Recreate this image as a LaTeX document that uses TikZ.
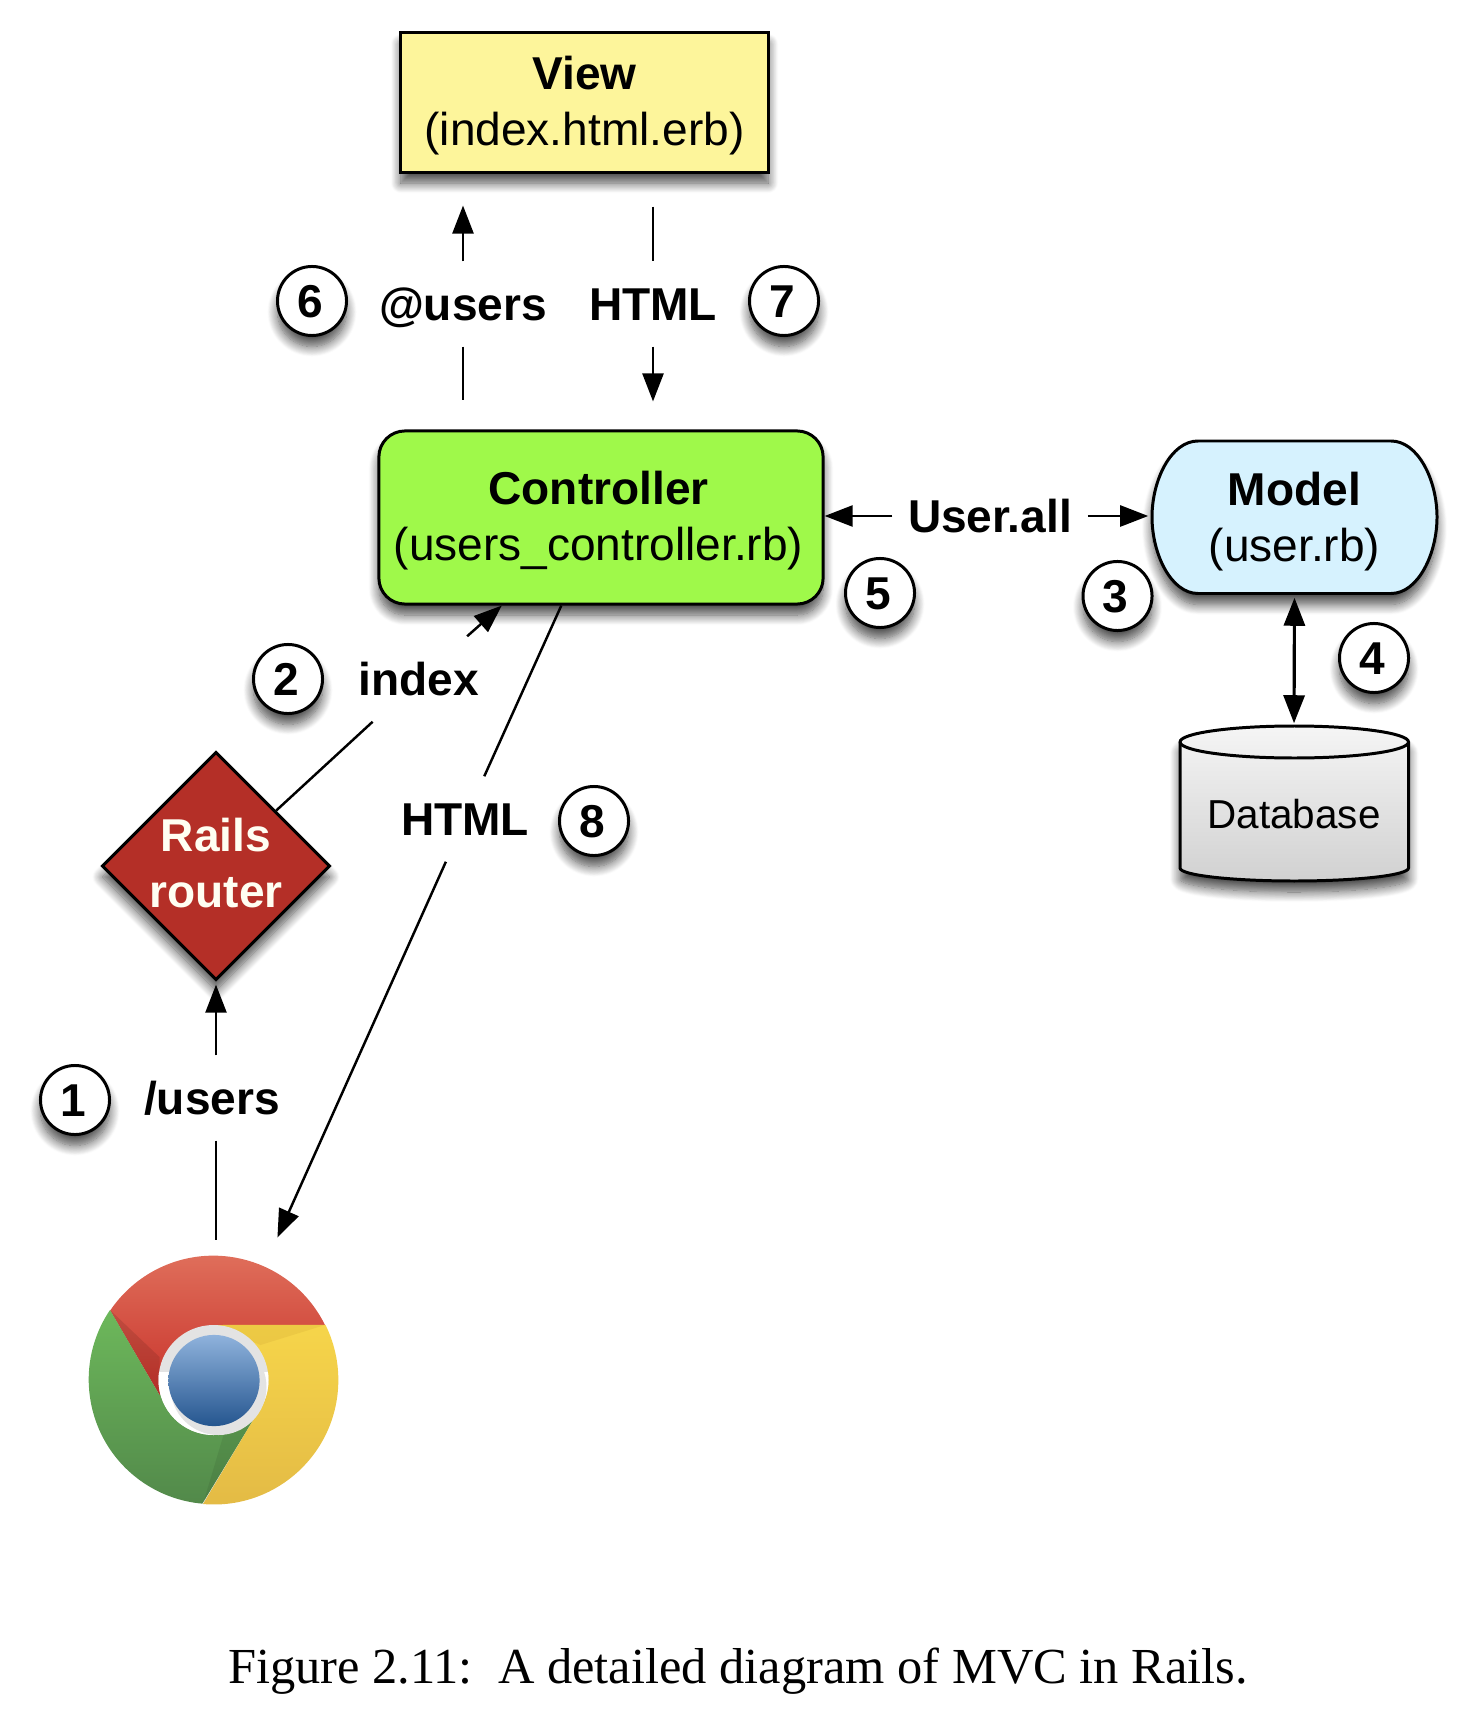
\documentclass[tikz,border=0pt]{standalone}
\usepackage{fontspec}
\setmainfont{Liberation Sans}
\newfontfamily\captionfont{Liberation Serif}
\usepackage{tikz}
\usetikzlibrary{arrows.meta,shapes.geometric,shadows.blur}

\definecolor{viewyellow}{HTML}{FDF59B}
\definecolor{ctrlgreen}{HTML}{9FF94A}
\definecolor{modelblue}{HTML}{D6F2FE}
\definecolor{routerred}{HTML}{B42F27}

\newcommand{\labelsize}{\fontsize{13.1}{15.9}\selectfont}
\newcommand{\topfix}{\rule{0pt}{11.3pt}}

\tikzset{
  softshadow/.style={blur shadow={shadow xshift=0cm,shadow yshift=-.11cm,shadow blur radius=.1cm,shadow blur steps=12,shadow opacity=70}},
  box/.style={draw,line width=.85pt,align=center,softshadow},
  num/.style={circle,draw,line width=.85pt,fill=white,minimum size=.69cm,inner sep=0pt,font=\labelsize\bfseries,softshadow,text height=.32cm,text depth=0pt,execute at end node=\kern.04cm},
  lbl/.style={inner sep=0pt,minimum height=.84cm,font=\labelsize\bfseries,text height=.33cm,text depth=0pt},
  line/.style={line width=.7pt},
  arrow/.style={line width=.7pt,->}
}

\begin{document}
\begin{tikzpicture}[x=.01cm,y=-.01cm,font=\labelsize,>={Triangle[length=.28cm,width=.21cm,fill=black]}]
\useasboundingbox (0,0) rectangle (1458,1722);

 \node[box,fill=viewyellow,minimum width=3.67cm,minimum height=1.39cm] (view) at (584.5,102.5) {\topfix\textbf{View}\\(index.html.erb)};
 \node[box,fill=ctrlgreen,rounded corners=.26cm,minimum width=4.44cm,minimum height=1.73cm] (controller) at (601,517.5) {\topfix\textbf{Controller}\hspace*{.05cm}\\(users\_controller.rb)\hspace*{.05cm}};
 \node[box,diamond,aspect=1,fill=routerred,text=white!95!yellow,font=\labelsize\bfseries,minimum width=2.28cm,minimum height=2.28cm,inner sep=0pt] (router) at (216,866) {Rails\\router\rule[-1.7pt]{0pt}{0pt}};

% model
 \draw[line width=.85pt,fill=modelblue,softshadow] (1198,441) -- (1391,441) .. controls (1418,441) and (1437,480) .. (1437,517) .. controls (1437,554) and (1418,593.5) .. (1391,593.5) -- (1198,593.5) .. controls (1171,593.5) and (1152,554) .. (1152,517) .. controls (1152,480) and (1171,441) .. (1198,441) -- cycle;
 \node[align=center,minimum width=2.85cm,minimum height=1.52cm,inner sep=0pt] (model) at (1294.5,517) {\rule{0pt}{12pt}\textbf{Model}\\(user.rb)};

% database
 \draw[line width=.85pt,top color=white!96!black,bottom color=black!18,softshadow] (1180,742) arc (180:360:114.25 and 16) -- (1408.5,868) arc (0:180:114.25 and 13) -- cycle;
 \draw[line width=.85pt] (1180,742) arc (180:0:114.25 and 16);
 \node[minimum width=2.28cm,minimum height=1.55cm,inner sep=0pt,font=\fontsize{11.5}{13}\selectfont,text height=14pt,text depth=0pt] (database) at (1294,803.5) {Database};

% browser
 \definecolor{chromeredA}{HTML}{E27560}
 \definecolor{chromeredB}{HTML}{C8332B}
 \definecolor{chromegreenA}{HTML}{6DB85B}
 \definecolor{chromegreenB}{HTML}{52894A}
 \definecolor{chromeyellowA}{HTML}{F6D54A}
 \definecolor{chromeyellowB}{HTML}{E3BA45}
 \definecolor{chromeblueA}{HTML}{8FB2DC}
 \definecolor{chromeblueB}{HTML}{25568F}
 \node[circle,minimum size=2.49cm,inner sep=0pt] (browser) at (213.5,1380) {};
 \begin{scope}[shift={(browser.center)}]
  \shade[top color=chromeredA,bottom color=chromeredB] (111.5,-55) arc (-26.3:-146:124.5) -- (-54,15) -- (0,0) -- (0,-55) -- cycle;
  \shade[top color=chromegreenA,bottom color=chromegreenB] (-103.5,-70) arc (-146:-265:124.5) -- (41.5,37) -- (0,0) -- (-54,15) -- cycle;
  \shade[top color=chromeyellowA,middle color=chromeyellowA,bottom color=chromeyellowB] (-10.5,124) arc (-265:-386.3:124.5) -- (0,-55) -- (0,0) -- (41.5,37) -- cycle;
  \fill[black,opacity=.1] (-103.5,-70) -- (-54,15) -- (-54,-23) -- cycle;
  \fill[orange!50!black,opacity=.07] (0,-55) -- (111.5,-55) -- (47,-35) -- cycle;
  \fill[black,opacity=.07] (-10.5,124) -- (41.5,37) -- (10,55) -- cycle;
  \fill[black!11] (0,0) circle (55);
  \begin{scope}
   \clip (-60,-8) rectangle (60,60);
   \fill[white] (0,0) circle (55);
  \end{scope}
  \fill[black!11] (5,7) circle (48);
  \shade[top color=chromeblueA,bottom color=chromeblueB] (0.5,0.5) circle (45.6);
 \end{scope}

% numbered labels
 \node[num] (one) at (75,1100) {1};
 \node[num] (two) at (288,679) {2};
 \node[num] (three) at (1117.5,596) {3};
 \node[num] (four) at (1374,658) {4};
 \node[num] (five) at (880,593) {5};
 \node[num] (six) at (312,301) {6};
 \node[num] (seven) at (784,301) {7};
 \node[num] (eight) at (594,821) {8};

% arrow labels
 \node[lbl] (users) at (463,304) {@users};
 \node[lbl] (htmlview) at (653,304) {HTML};
 \node[lbl,minimum width=1.94cm] (userall) at (990,516) {User.all};
 \node[lbl] (index) at (419,679) {index};
 \node[lbl] (htmlback) at (465,819) {HTML};
 \node[lbl] (path) at (212,1098) {/users};

 \draw[arrow,shorten >=.32cm] (users.north) -- (users.north |- view.south);
 \draw[line,shorten >=.29cm] (users.south) -- (users.south |- controller.north);
 \draw[line,shorten <=.33cm] (htmlview.north |- view.south) -- (htmlview.north);
 \draw[arrow,shorten >=.28cm] (htmlview.south) -- (htmlview.south |- controller.north);

 \draw[arrow] (userall.west) -- (userall.west -| controller.east);
 \draw[arrow,shorten >=.03cm] (userall.east) -- (userall.east -| model.west);
 \draw[line width=.9pt,<->,shorten <=.04cm,shorten >=.02cm] (model.south) -- (database.north);

 \draw[line] (router) -- (index);
 \draw[arrow] (index) -- (controller);
 \draw[line] (controller) -- (htmlback);
 \draw[arrow,shorten >=.31cm] (htmlback) -- (browser);
 \draw[line,shorten >=.15cm] (path.south -| router) -- (router |- browser.north);
 \draw[arrow,shorten >=.03cm] (path.north -| router) -- (router.south);

 \node[font=\captionfont\fontsize{14.35}{17}\selectfont] (caption) at (738,1671) {Figure 2.11:\ \ A detailed diagram of MVC in Rails.};
\end{tikzpicture}
\end{document}
